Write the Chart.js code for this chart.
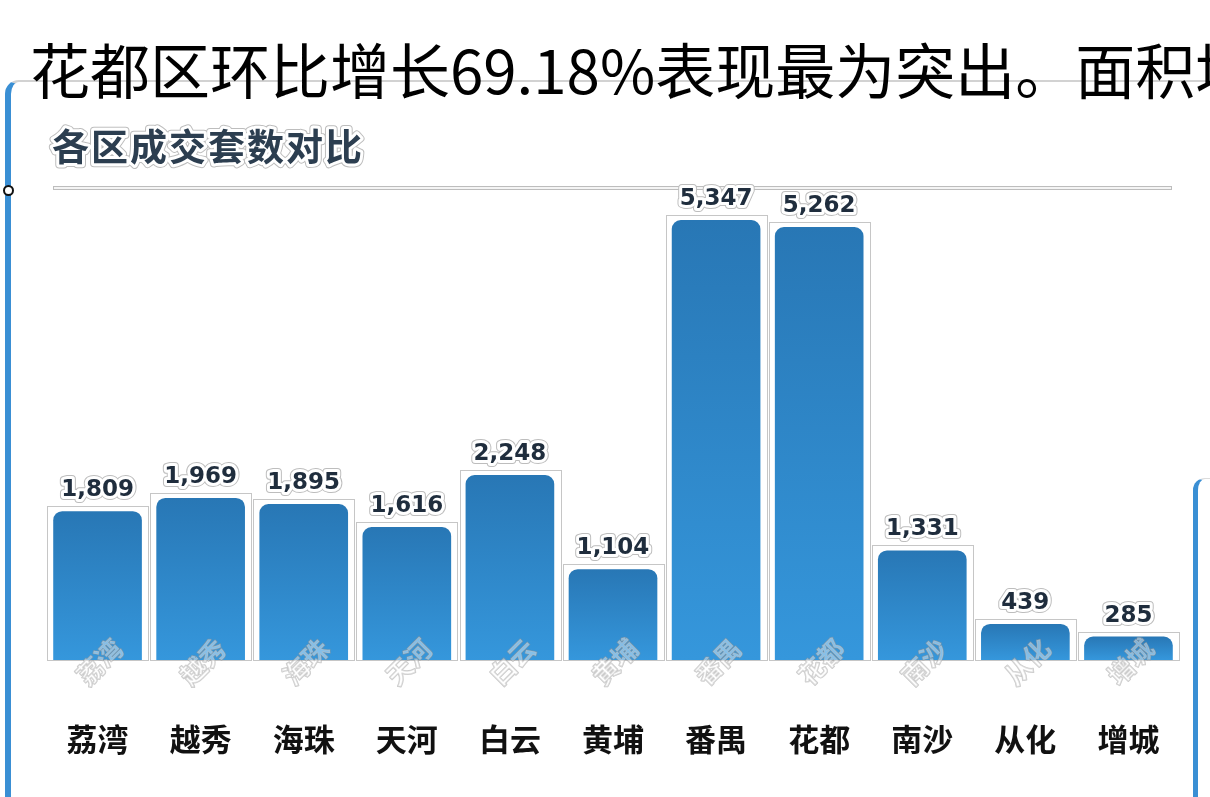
<!DOCTYPE html>
<html>
<head>
<meta charset="utf-8">
<script src="https://cdn.jsdelivr.net/npm/chart.js@4.4.1/dist/chart.umd.min.js"></script>
<style>
  html, body { margin: 0; padding: 0; background: #fff; overflow: hidden; }
  body { width: 1210px; height: 797px; position: relative; font-family: "Noto Sans CJK SC", sans-serif; }
  .card {
    position: absolute; left: 5px; top: 80px; width: 1400px; height: 900px;
    border-left: 6px solid #3a8fd4; border-top: 2px solid #d2d2d2;
    border-top-left-radius: 14px; box-sizing: border-box;
  }
  .card2 {
    position: absolute; left: 1193px; top: 478px; width: 200px; height: 400px;
    border-left: 5px solid #3a8fd4; border-top: 1px solid #dcdcdc;
    border-top-left-radius: 12px; box-sizing: border-box;
  }
  .lead {
    position: absolute; left: 30px; top: 38px; white-space: nowrap;
    font-size: 60px; line-height: 60px; color: #000; z-index: 3;
  }
  .dot {
    position: absolute; left: 3px; top: 185px; width: 7px; height: 7px;
    border: 2px solid #111; border-radius: 50%; background: #fff; z-index: 4;
  }
  .wrap { position: absolute; left: 0; top: 110px; width: 1190px; height: 687px; z-index: 2; }
</style>
</head>
<body>
<div class="card"></div>
<div class="card2"></div>
<div class="lead">花都区环比增长69.18%表现最为突出。面积均</div>
<div class="dot"></div>
<div class="wrap"><canvas id="c"></canvas></div>
<script>
const chartTitle = "各区成交套数对比";
const districts = ["荔湾", "越秀", "海珠", "天河", "白云", "黄埔", "番禺", "花都", "南沙", "从化", "增城"];
const deals = [1809, 1969, 1895, 1616, 2248, 1104, 5347, 5262, 1331, 439, 285];

// text with a white halo and a thin grey rim, like the screenshot
function haloText(ctx, text, x, y, fill) {
  ctx.lineJoin = "round";
  ctx.strokeStyle = "#bdbdbd";
  ctx.lineWidth = 8;
  ctx.strokeText(text, x, y);
  ctx.strokeStyle = "#ffffff";
  ctx.lineWidth = 6;
  ctx.strokeText(text, x, y);
  ctx.fillStyle = fill;
  ctx.fillText(text, x, y);
}

const decor = {
  id: "decor",
  beforeDraw(chart) {
    const ctx = chart.ctx;
    ctx.save();
    ctx.font = "bold 37px 'Noto Sans CJK SC'";
    ctx.letterSpacing = "2px";
    ctx.textAlign = "left";
    ctx.textBaseline = "middle";
    haloText(ctx, chartTitle, 52, 37, "#2c3e50");
    ctx.letterSpacing = "0px";
    // rule under the title
    ctx.fillStyle = "#bdbdbd";
    ctx.fillRect(53, 76, 1119, 4);
    ctx.fillStyle = "#f4f4f4";
    ctx.fillRect(54, 77, 1117, 2);
    ctx.restore();
  },
  beforeDatasetsDraw(chart) {
    const ctx = chart.ctx;
    ctx.save();
    ctx.strokeStyle = "#c6c6c6";
    ctx.lineWidth = 1;
    chart.getDatasetMeta(0).data.forEach((bar) => {
      const { x, y, width, base } = bar.getProps(["x", "y", "width", "base"], true);
      ctx.strokeRect(Math.round(x - width / 2 - 6) + 0.5, Math.round(y - 5) + 0.5, Math.round(width + 12), Math.round(base - y + 5));
    });
    ctx.restore();
  },
  afterDatasetsDraw(chart) {
    const ctx = chart.ctx;
    const meta = chart.getDatasetMeta(0);
    ctx.save();
    ctx.textAlign = "center";
    ctx.textBaseline = "middle";
    meta.data.forEach((bar, i) => {
      const { x, y, base } = bar.getProps(["x", "y", "base"], true);
      // value above the bar
      ctx.font = "bold 23px 'DejaVu Sans'";
      haloText(ctx, deals[i].toLocaleString("en-US"), x, y - 21, "#1f2d3d");
      // faint rotated name at the foot of the bar
      ctx.save();
      ctx.translate(x + 2, base + 2);
      ctx.rotate(-Math.PI / 4);
      ctx.font = "bold 26px 'Noto Sans CJK SC'";
      ctx.lineWidth = 1.5;
      ctx.strokeStyle = "rgba(150,150,150,0.5)";
      ctx.strokeText(districts[i], 0, 0);
      ctx.fillStyle = "rgba(255,255,255,0.4)";
      ctx.fillText(districts[i], 0, 0);
      ctx.restore();
    });
    ctx.restore();
  },
};

new Chart(document.getElementById("c"), {
  type: "bar",
  data: {
    labels: districts,
    datasets: [
      {
        data: deals,
        backgroundColor: (c) => {
          const scale = c.chart.scales.y;
          if (c.type !== "data" || !scale) return "#2e87ca";
          const top = scale.getPixelForValue(c.raw);
          const bottom = scale.getPixelForValue(0);
          if (!isFinite(top) || !isFinite(bottom)) return "#2e87ca";
          const g = c.chart.ctx.createLinearGradient(0, top, 0, bottom);
          g.addColorStop(0, "#2877b5");
          g.addColorStop(1, "#3597dc");
          return g;
        },
        borderWidth: 0,
        borderRadius: { topLeft: 9, topRight: 9 },
        borderSkipped: "bottom",
        barPercentage: 0.86,
        categoryPercentage: 1,
      },
    ],
  },
  options: {
    responsive: true,
    maintainAspectRatio: false,
    animation: false,
    layout: { padding: { top: 80, left: 46, right: 10, bottom: 27 } },
    plugins: {
      legend: { display: false },
      tooltip: { enabled: false },
    },
    scales: {
      x: {
        grid: { display: false },
        border: { display: false },
        ticks: {
          color: "#111",
          padding: 53,
          maxRotation: 0,
          font: { family: "'Noto Sans CJK SC'", size: 31, weight: "bold" },
        },
        // keep the big tick gap from squeezing the plot sideways
        afterFit: (s) => {
          s.paddingLeft = 0;
          s.paddingRight = 0;
          s.height = 110;
        },
      },
      y: { display: false, min: 0, max: 5712 },
    },
  },
  plugins: [decor],
});
</script>
</body>
</html>
